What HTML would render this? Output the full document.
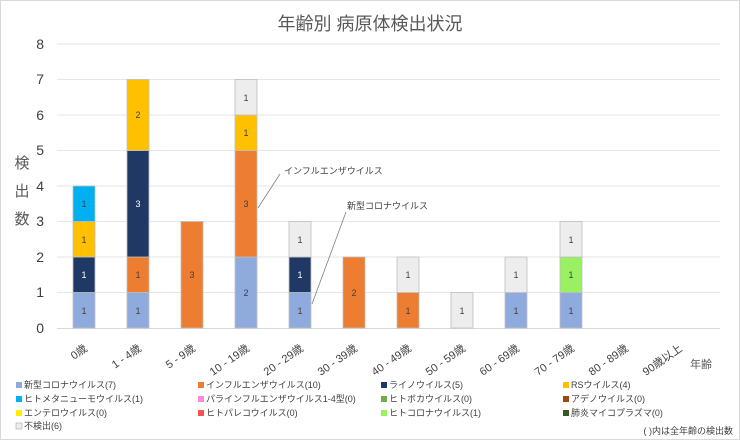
<!DOCTYPE html><html><head><meta charset="utf-8"><style>
body{margin:0;background:#fff}
svg text{font-family:"Liberation Sans","Noto Sans CJK JP",sans-serif}
</style></head><body>
<svg width="740" height="440" xmlns="http://www.w3.org/2000/svg">
<rect x="0.5" y="0.5" width="739" height="439" fill="#fff" stroke="#d9d9d9"/>
<text x="370" y="30" font-size="18" text-anchor="middle" fill="#595959">年齢別 病原体検出状況</text>
<g stroke="#e6e6e6" stroke-width="1">
<line x1="57" x2="720" y1="328.5" y2="328.5" stroke="#d9d9d9"/>
<line x1="57" x2="720" y1="292.5" y2="292.5"/><line x1="57" x2="720" y1="257" y2="257"/>
<line x1="57" x2="720" y1="221.5" y2="221.5"/><line x1="57" x2="720" y1="186" y2="186"/>
<line x1="57" x2="720" y1="150.5" y2="150.5"/><line x1="57" x2="720" y1="115" y2="115"/>
<line x1="57" x2="720" y1="79.5" y2="79.5"/><line x1="57" x2="720" y1="44" y2="44"/>
</g>
<g font-size="14" fill="#404040" text-anchor="end">
<text x="44" y="333">0</text><text x="44" y="297">1</text><text x="44" y="262">2</text><text x="44" y="226">3</text><text x="44" y="191">4</text><text x="44" y="155">5</text><text x="44" y="120">6</text><text x="44" y="84">7</text><text x="44" y="49">8</text>
</g>
<g font-size="15" fill="#595959" text-anchor="middle"><text x="22" y="168">検</text><text x="22" y="196">出</text><text x="22" y="224">数</text></g>
<g id="bars" stroke="#bfbfbf" stroke-width="0.8" font-size="9" text-anchor="middle">
<!-- 0歳 -->
<rect x="73" y="292.5" width="22" height="35.5" fill="#8faadc"/><rect x="73" y="257" width="22" height="35.5" fill="#203864"/><rect x="73" y="221.5" width="22" height="35.5" fill="#ffc000"/><rect x="73" y="186" width="22" height="35.5" fill="#00b0f0"/>
<!-- 1-4 -->
<rect x="127" y="292.5" width="22" height="35.5" fill="#8faadc"/><rect x="127" y="257" width="22" height="35.5" fill="#ed7d31"/><rect x="127" y="150.5" width="22" height="106.5" fill="#203864"/><rect x="127" y="79.5" width="22" height="71" fill="#ffc000"/>
<!-- 5-9 -->
<rect x="181" y="221.5" width="22" height="106.5" fill="#ed7d31"/>
<!-- 10-19 -->
<rect x="235" y="257" width="22" height="71" fill="#8faadc"/><rect x="235" y="150.5" width="22" height="106.5" fill="#ed7d31"/><rect x="235" y="115" width="22" height="35.5" fill="#ffc000"/><rect x="235" y="79.5" width="22" height="35.5" fill="#ededed"/>
<!-- 20-29 -->
<rect x="289" y="292.5" width="22" height="35.5" fill="#8faadc"/><rect x="289" y="257" width="22" height="35.5" fill="#203864"/><rect x="289" y="221.5" width="22" height="35.5" fill="#ededed"/>
<!-- 30-39 -->
<rect x="343" y="257" width="22" height="71" fill="#ed7d31"/>
<!-- 40-49 -->
<rect x="397" y="292.5" width="22" height="35.5" fill="#ed7d31"/><rect x="397" y="257" width="22" height="35.5" fill="#ededed"/>
<!-- 50-59 -->
<rect x="451" y="292.5" width="22" height="35.5" fill="#ededed"/>
<!-- 60-69 -->
<rect x="505" y="292.5" width="22" height="35.5" fill="#8faadc"/><rect x="505" y="257" width="22" height="35.5" fill="#ededed"/>
<!-- 70-79 -->
<rect x="560" y="292.5" width="22" height="35.5" fill="#8faadc"/><rect x="560" y="257" width="22" height="35.5" fill="#99f060"/><rect x="560" y="221.5" width="22" height="35.5" fill="#ededed"/>
</g>
<g font-size="9" text-anchor="middle" fill="#404040">
<text x="84" y="314">1</text><text x="84" y="278" fill="#fff">1</text><text x="84" y="243">1</text><text x="84" y="207">1</text>
<text x="138" y="314">1</text><text x="138" y="278">1</text><text x="138" y="207" fill="#fff">3</text><text x="138" y="118">2</text>
<text x="192" y="278">3</text>
<text x="246" y="296">2</text><text x="246" y="207">3</text><text x="246" y="136">1</text><text x="246" y="101">1</text>
<text x="300" y="314">1</text><text x="300" y="278" fill="#fff">1</text><text x="300" y="243">1</text>
<text x="354" y="296">2</text>
<text x="408" y="314">1</text><text x="408" y="278">1</text>
<text x="462" y="314">1</text>
<text x="516" y="314">1</text><text x="516" y="278">1</text>
<text x="571" y="314">1</text><text x="571" y="278">1</text><text x="571" y="243">1</text>
</g>
<g stroke="#808080" stroke-width="0.8" fill="none"><polyline points="258,208 280,174"/><polyline points="312,304 346,212"/></g>
<g font-size="9" fill="#404040"><text x="284" y="174">インフルエンザウイルス</text><text x="347" y="209">新型コロナウイルス</text></g>
<g font-size="11" fill="#404040" text-anchor="end">
<text transform="translate(88,350) rotate(-35)">0歳</text>
<text transform="translate(142,350) rotate(-35)">1 - 4歳</text>
<text transform="translate(196,350) rotate(-35)">5 - 9歳</text>
<text transform="translate(250,350) rotate(-35)">10 - 19歳</text>
<text transform="translate(304,350) rotate(-35)">20 - 29歳</text>
<text transform="translate(358,350) rotate(-35)">30 - 39歳</text>
<text transform="translate(412,350) rotate(-35)">40 - 49歳</text>
<text transform="translate(466,350) rotate(-35)">50 - 59歳</text>
<text transform="translate(520,350) rotate(-35)">60 - 69歳</text>
<text transform="translate(575,350) rotate(-35)">70 - 79歳</text>
<text transform="translate(629,350) rotate(-35)">80 - 89歳</text>
<text transform="translate(683,350) rotate(-35)">90歳以上</text>
</g>
<text x="712" y="368" font-size="11" fill="#595959" text-anchor="end">年齢</text>
<g font-size="9" fill="#404040">
<rect x="16" y="382" width="6" height="6" fill="#8faadc"/><text x="24" y="388">新型コロナウイルス(7)</text>
<rect x="198" y="382" width="6" height="6" fill="#ed7d31"/><text x="206" y="388">インフルエンザウイルス(10)</text>
<rect x="381" y="382" width="6" height="6" fill="#203864"/><text x="389" y="388">ライノウイルス(5)</text>
<rect x="563" y="382" width="6" height="6" fill="#ffc000"/><text x="571" y="388">RSウイルス(4)</text>
<rect x="16" y="396" width="6" height="6" fill="#00b0f0"/><text x="24" y="402">ヒトメタニューモウイルス(1)</text>
<rect x="198" y="396" width="6" height="6" fill="#ff88dd"/><text x="206" y="402">パラインフルエンザウイルス1-4型(0)</text>
<rect x="381" y="396" width="6" height="6" fill="#70ad47"/><text x="389" y="402">ヒトボカウイルス(0)</text>
<rect x="563" y="396" width="6" height="6" fill="#9e480e"/><text x="571" y="402">アデノウイルス(0)</text>
<rect x="16" y="410" width="6" height="6" fill="#ffee00"/><text x="24" y="416">エンテロウイルス(0)</text>
<rect x="198" y="410" width="6" height="6" fill="#ff5050"/><text x="206" y="416">ヒトパレコウイルス(0)</text>
<rect x="381" y="410" width="6" height="6" fill="#99f060"/><text x="389" y="416">ヒトコロナウイルス(1)</text>
<rect x="563" y="410" width="6" height="6" fill="#385723"/><text x="571" y="416">肺炎マイコプラズマ(0)</text>
<rect x="16" y="423" width="6" height="6" fill="#ededed" stroke="#aaa" stroke-width="0.6"/><text x="24" y="429">不検出(6)</text>
<text x="733" y="434" text-anchor="end">( )内は全年齢の検出数</text>
</g>
</svg>
</body></html>
